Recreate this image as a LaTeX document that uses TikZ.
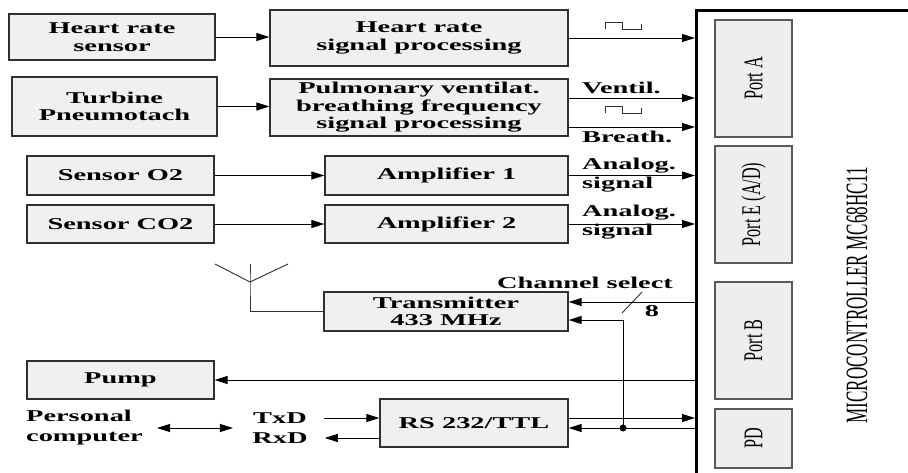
\documentclass[tikz,border=0pt]{standalone}
\usepackage{fontspec}
\usepackage{tikz}
\usetikzlibrary{arrows.meta,positioning}
\newfontfamily\lblfont[FakeStretch=1.72]{Liberation Serif}
\newfontfamily\portfont[FakeStretch=0.6]{Liberation Serif}
\newfontfamily\mcufont[FakeStretch=0.55]{Liberation Serif}
\definecolor{boxfill}{HTML}{F0F0F0}
\definecolor{portfill}{HTML}{EEEEEE}
\definecolor{edge}{HTML}{303030}
\tikzset{
  box/.style={draw=edge,line width=1.3pt,fill=boxfill,inner sep=2pt,align=center,
              font=\lblfont\bfseries\fontsize{16.5}{17.5}\selectfont},
  port/.style={draw=edge!80,line width=1.1pt,fill=portfill,rotate=90,
              font=\portfont\fontsize{27}{27}\selectfont},
  lbl/.style={inner sep=1pt,align=left,font=\lblfont\bfseries\fontsize{16.5}{20}\selectfont},
  sig/.style={-{Triangle[length=13pt,width=8pt]},line width=0.9pt},
  dbl/.style={{Triangle[length=13pt,width=8pt]}-{Triangle[length=13pt,width=8pt]},line width=0.9pt},
  wire/.style={line width=0.9pt,edge},
  dot/.style={circle,fill=black,inner sep=0pt,minimum size=7pt},
}

\begin{document}
\begin{tikzpicture}[x=1pt,y=-1pt]
  \useasboundingbox (0,0) rectangle (908,472);
  % microcontroller and its ports
  \node[draw=black,line width=2.8pt,minimum width=240pt,minimum height=480pt,
        anchor=north west,inner sep=0pt] (mcu) at (695,9) {};
  \node[port,minimum width=117pt,minimum height=77pt] (pa) at (753.5,78.5) {Port A};
  \node[port,minimum width=117pt,minimum height=77pt] (pe) at (753.5,204.5) {Port E (A/D)};
  \node[port,minimum width=117pt,minimum height=77pt] (pb) at (753.5,340.5) {Port B};
  \node[port,minimum width=59pt,minimum height=77pt] (pd) at (753.5,438.5) {PD};
  \node[rotate=90,font=\mcufont\fontsize{31}{31}\selectfont] (mcul) at (857,295)
       {MICROCONTROLLER MC68HC11};

  % sensor side
  \node[box,minimum width=206pt,minimum height=46pt] (hrs) at (112,37) {Heart rate\\sensor};
  \node[box,minimum width=205pt,minimum height=59pt] (turb) at (114.5,106.5) {Turbine\\Pneumotach};
  \node[box,minimum width=298pt,minimum height=56pt] (hrsp) at (419,38) {Heart rate\\signal processing};
  \node[box,minimum width=298pt,minimum height=57pt] (pulm) at (419,107.5)
       {Pulmonary ventilat.\\breathing frequency\\signal processing};
  \node[box,minimum width=187pt,minimum height=39pt] (so2) at (120.5,175.5) {Sensor O2};
  \node[box,minimum width=187pt,minimum height=38pt] (sco2) at (120.5,224) {Sensor CO2};
  \node[box,minimum width=243pt,minimum height=39pt] (amp1) at (446.5,175.5) {Amplifier 1};
  \node[box,minimum width=243pt,minimum height=38pt] (amp2) at (446.5,224) {Amplifier 2};
  \node[box,minimum width=244pt,minimum height=39pt] (trans) at (446,311.5) {Transmitter\\433 MHz};
  \node[box,minimum width=187pt,minimum height=38pt] (pump) at (120.5,380) {Pump};
  \node[box,minimum width=188pt,minimum height=48pt] (rs) at (474,423) {RS 232/TTL};

  \draw[sig] (hrs.east) -- (hrs.east -| hrsp.west);
  \draw[sig] (turb.east) -- (turb.east -| pulm.west);
  \draw[sig] (so2.east) -- (amp1.west);
  \draw[sig] (sco2.east) -- (amp2.west);

  % signals into the ports
  \draw[sig] (hrsp.east) -- (hrsp.east -| mcu.west);
  \coordinate (vent) at ([yshift=9.5pt]pulm.east);
  \coordinate (brth) at ([yshift=-19.5pt]pulm.east);
  \draw[sig] (vent) -- (vent -| mcu.west);
  \draw[sig] (brth) -- (brth -| mcu.west);
  \draw[sig] (amp1.east) -- (amp1.east -| mcu.west);
  \draw[sig] (amp2.east) -- (amp2.east -| mcu.west);
  \draw[wire] (605,29) -- ++(0,-7) -- ++(17,0) -- ++(0,7) -- ++(19,0) -- ++(0,-5);
  \draw[wire] (605,113) -- ++(0,-7) -- ++(17,0) -- ++(0,7) -- ++(19,0) -- ++(0,-5);
  \node[lbl,anchor=west] (ventl) at (581,88) {Ventil.};
  \node[lbl,anchor=west] (brthl) at (581,137) {Breath.};
  \node[lbl,anchor=west] (ana1) at (581,166) {Analog.};
  \node[lbl,anchor=west] (sig1) at (581,185) {signal};
  \node[lbl,anchor=west] (ana2) at (581,213) {Analog.};
  \node[lbl,anchor=west] (sig2) at (581,232) {signal};

  % transmitter, pump, serial link
  \coordinate (chs) at ([yshift=9.5pt]trans.east);
  \coordinate (tin) at ([yshift=-8.5pt]trans.east);
  \draw[sig] (chs -| mcu.west) -- (chs);
  \node[lbl] (chsl) at (585,283) {Channel select};
  \draw[wire] (622,313) -- (642,292);
  \node[lbl] (nbits) at (652,311) {8};
  \coordinate (ant) at (250,282);
  \draw[wire] (215,264) -- (ant) -- (288,264);
  \draw[wire] (250,264) -- (ant) |- (trans.west);
  \draw[sig] (pump.east -| mcu.west) -- (pump.east);
  \node[dot] (jn) at (623,428) {};
  \draw[sig] ([yshift=5pt]rs.east) -- ([yshift=5pt]rs.east -| mcu.west);
  \draw[sig] (jn -| mcu.west) -- ([yshift=-5pt]rs.east);
  \draw[sig] (jn.center) |- (tin);

  \node[lbl] (txd) at (280,418) {TxD};
  \node[lbl] (rxd) at (280,438) {RxD};
  \node[lbl,anchor=west] (pc) at (25,428) {Personal\\computer};
  \draw[sig] ([xshift=16pt]txd.east) -- (txd.east -| rs.west);
  \draw[sig] ([yshift=-15pt]rs.west) -- ([xshift=16pt]rxd.east);
  \coordinate (pcend) at ([xshift=-19pt]txd.west);
  \draw[dbl] ([xshift=13pt]pc.east) -- (pcend |- pc.east);
\end{tikzpicture}
\end{document}
